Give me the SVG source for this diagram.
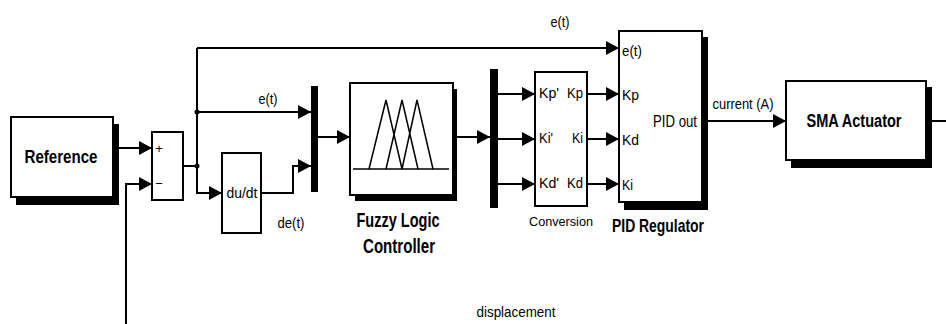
<svg xmlns="http://www.w3.org/2000/svg" width="946" height="324" viewBox="0 0 946 324">
<defs>
<marker id="ar" markerUnits="userSpaceOnUse" markerWidth="13" markerHeight="14" refX="13" refY="7" orient="auto">
<path d="M0,0 L13,7 L0,14 z" fill="#000"/>
</marker>
<style>
.blk{fill:#fff;stroke:#000;stroke-width:2}
.sh{fill:#000}
.bar{fill:#000}
.ln{fill:none;stroke:#000;stroke-width:2}
.t{font-family:"Liberation Sans",Arial,sans-serif;fill:#000}
.b{font-weight:bold}
</style>
</defs>
<rect width="946" height="324" fill="#fff"/>

<g id="connectors">
<path class="ln" d="M119,148 H152" marker-end="url(#ar)"/>
<path class="ln" d="M126,324 V184 H152" marker-end="url(#ar)"/>
<path class="ln" d="M183,166 H197"/>
<path class="ln" d="M197,48 V193 H222" marker-end="url(#ar)"/>
<path class="ln" d="M197,48 H619" marker-end="url(#ar)"/>
<path class="ln" d="M197,112 H311" marker-end="url(#ar)"/>
<path class="ln" d="M261,193 H293 V166 H311" marker-end="url(#ar)"/>
<path class="ln" d="M318,137 H350" marker-end="url(#ar)"/>
<path class="ln" d="M457,137 H490" marker-end="url(#ar)"/>
<path class="ln" d="M498,94 H535" marker-end="url(#ar)"/>
<path class="ln" d="M498,139 H535" marker-end="url(#ar)"/>
<path class="ln" d="M498,184 H535" marker-end="url(#ar)"/>
<path class="ln" d="M587,94 H619" marker-end="url(#ar)"/>
<path class="ln" d="M587,139 H619" marker-end="url(#ar)"/>
<path class="ln" d="M587,184 H619" marker-end="url(#ar)"/>
<path class="ln" d="M708,121 H786" marker-end="url(#ar)"/>
<path class="ln" d="M932,121 H946"/>
<circle cx="197" cy="112" r="2.5" fill="#000"/>
<circle cx="197" cy="166" r="2.5" fill="#000"/>
<text class="t" x="560" y="27" font-size="14" text-anchor="middle" textLength="19" lengthAdjust="spacingAndGlyphs">e(t)</text>
<text class="t" x="268" y="104" font-size="14" text-anchor="middle" textLength="19" lengthAdjust="spacingAndGlyphs">e(t)</text>
<text class="t" x="291" y="228" font-size="14" text-anchor="middle" textLength="27" lengthAdjust="spacingAndGlyphs">de(t)</text>
<text class="t" x="743" y="109" font-size="14" text-anchor="middle" textLength="61" lengthAdjust="spacingAndGlyphs">current (A)</text>
<text class="t" x="516" y="317" font-size="14" text-anchor="middle" textLength="79" lengthAdjust="spacingAndGlyphs">displacement</text>
</g>

<g id="reference">
<rect class="sh" x="16" y="124" width="103" height="81"/>
<rect class="blk" x="11" y="117" width="102" height="80"/>
<text class="t b" x="61" y="163" font-size="18" text-anchor="middle" textLength="73" lengthAdjust="spacingAndGlyphs">Reference</text>
</g>

<g id="sum">
<rect class="blk" x="152" y="132" width="31" height="68"/>
<text class="t" x="159" y="153" font-size="13" text-anchor="middle">+</text>
<text class="t" x="159" y="188" font-size="13" text-anchor="middle">−</text>
</g>

<g id="derivative">
<rect class="blk" x="222" y="153" width="39" height="80"/>
<text class="t" x="242" y="198" font-size="15" text-anchor="middle" textLength="31" lengthAdjust="spacingAndGlyphs">du/dt</text>
</g>

<g id="mux1">
<rect class="bar" x="311" y="86" width="7" height="106"/>
</g>

<g id="fuzzy">
<rect class="sh" x="355" y="89" width="102" height="112"/>
<rect class="blk" x="350" y="83" width="103" height="112"/>
<path fill="none" stroke="#000" stroke-width="1.5" d="M353,169 H449 M369,169 L386,100 L402,169 M386,169 L402,100 L418,169 M402,169 L417,100 L433,169"/>
<text class="t b" x="398" y="227" font-size="20" text-anchor="middle" textLength="83" lengthAdjust="spacingAndGlyphs">Fuzzy Logic</text>
<text class="t b" x="399" y="253" font-size="20" text-anchor="middle" textLength="72" lengthAdjust="spacingAndGlyphs">Controller</text>
</g>

<g id="mux2">
<rect class="bar" x="490" y="69" width="8" height="139"/>
</g>

<g id="conversion">
<rect class="blk" x="535" y="72" width="52" height="134"/>
<text class="t" x="539" y="98" font-size="14" textLength="20" lengthAdjust="spacingAndGlyphs">Kp'</text>
<text class="t" x="539" y="143" font-size="14" textLength="14" lengthAdjust="spacingAndGlyphs">Ki'</text>
<text class="t" x="539" y="188" font-size="14" textLength="20" lengthAdjust="spacingAndGlyphs">Kd'</text>
<text class="t" x="583" y="98" font-size="14" text-anchor="end" textLength="16" lengthAdjust="spacingAndGlyphs">Kp</text>
<text class="t" x="583" y="143" font-size="14" text-anchor="end" textLength="11" lengthAdjust="spacingAndGlyphs">Ki</text>
<text class="t" x="583" y="188" font-size="14" text-anchor="end" textLength="16" lengthAdjust="spacingAndGlyphs">Kd</text>
<text class="t" x="561" y="226" font-size="13" text-anchor="middle" textLength="64" lengthAdjust="spacingAndGlyphs">Conversion</text>
</g>

<g id="pid">
<rect class="sh" x="624" y="37" width="84" height="173"/>
<rect class="blk" x="619" y="31" width="83" height="171"/>
<text class="t" x="622" y="56" font-size="15" textLength="20" lengthAdjust="spacingAndGlyphs">e(t)</text>
<text class="t" x="622" y="100" font-size="15" textLength="17" lengthAdjust="spacingAndGlyphs">Kp</text>
<text class="t" x="622" y="145" font-size="15" textLength="17" lengthAdjust="spacingAndGlyphs">Kd</text>
<text class="t" x="622" y="190" font-size="15" textLength="11" lengthAdjust="spacingAndGlyphs">Ki</text>
<text class="t" x="697" y="127" font-size="16" text-anchor="end" textLength="44" lengthAdjust="spacingAndGlyphs">PID out</text>
<text class="t b" x="658" y="232" font-size="19" text-anchor="middle" textLength="92" lengthAdjust="spacingAndGlyphs">PID Regulator</text>
</g>

<g id="sma">
<rect class="sh" x="791" y="87" width="141" height="81"/>
<rect class="blk" x="786" y="81" width="140" height="79"/>
<text class="t b" x="854" y="127" font-size="18" text-anchor="middle" textLength="95" lengthAdjust="spacingAndGlyphs">SMA Actuator</text>
</g>
</svg>
